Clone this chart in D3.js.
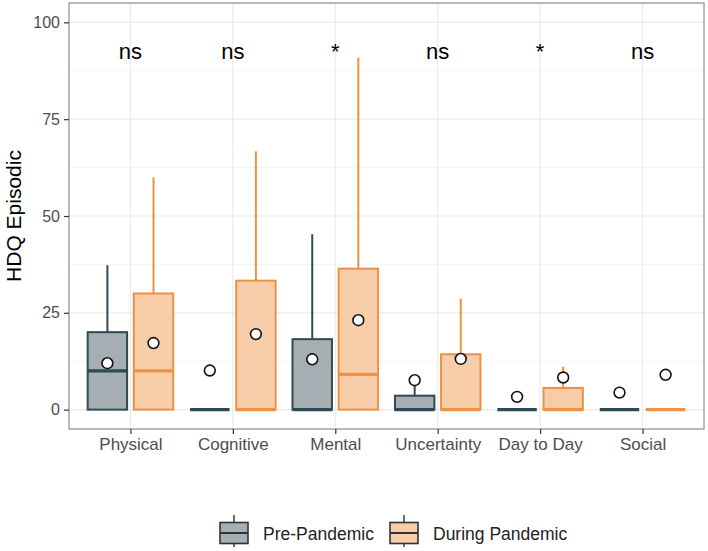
<!DOCTYPE html>
<html>
<head>
<meta charset="utf-8">
<script src="https://cdn.jsdelivr.net/npm/d3@7"></script>
<style>
  body { margin: 0; background: #fff; }
  text { font-family: "Liberation Sans", Arial, sans-serif; }
</style>
</head>
<body>
<div id="chart-area"></div>
<script>
// categories and groups
const categories = ["Physical", "Cognitive", "Mental", "Uncertainty", "Day to Day", "Social"]
const groups = ["Pre-Pandemic", "During Pandemic"]

// box stats: [lowerWhisker, q1, median, q3, upperWhisker]
const preStats = [
  [0, 0, 10, 20, 37.3],
  [0, 0, 0, 0, 0],
  [0, 0, 0, 18.2, 45.3],
  [0, 0, 0, 3.6, 7.1],
  [0, 0, 0, 0, 0],
  [0, 0, 0, 0, 0]
]
const duringStats = [
  [0, 0, 10, 30, 60],
  [0, 0, 0, 33.3, 66.7],
  [0, 0, 9.1, 36.4, 90.9],
  [0, 0, 0, 14.3, 28.6],
  [0, 0, 0, 5.6, 11.1],
  [0, 0, 0, 0, 0]
]
const preMeans = [12.0, 10.1, 13.0, 7.6, 3.3, 4.4]
const duringMeans = [17.2, 19.5, 23.1, 13.1, 8.3, 9.0]
const sigLabels = ["ns", "ns", "*", "ns", "*", "ns"]
const yTicks = [0, 25, 50, 75, 100]
const yMinorTicks = [12.5, 37.5, 62.5, 87.5]

const LABEL_Y = 90.5
const fills = { "Pre-Pandemic": "#a5afb3", "During Pandemic": "#f6cca9" }
const strokes = { "Pre-Pandemic": "#2f4a52", "During Pandemic": "#ec9145" }

const MARGIN = { LEFT: 69, RIGHT: 4, TOP: 3, BOTTOM: 122 }
const WIDTH = 708 - MARGIN.LEFT - MARGIN.RIGHT
const HEIGHT = 551 - MARGIN.TOP - MARGIN.BOTTOM

const svg = d3.select("#chart-area").append("svg")
  .attr("width", 708)
  .attr("height", 551)

const g = svg.append("g")
  .attr("transform", `translate(${MARGIN.LEFT}, ${MARGIN.TOP})`)

const x = d3.scalePoint()
  .domain(categories)
  .range([0, WIDTH])
  .padding(0.6)

const step = x.step()
const dodge = d3.scaleOrdinal().domain(groups).range([-0.225 * step, 0.225 * step])
const boxW = 0.385 * step

const y = d3.scaleLinear()
  .domain([-5, 105])
  .range([HEIGHT, 0])

// grid
g.selectAll(".minor").data(yMinorTicks).enter().append("line")
  .attr("x1", 0).attr("x2", WIDTH)
  .attr("y1", d => y(d)).attr("y2", d => y(d))
  .attr("stroke", "#f3f3f3").attr("stroke-width", 0.8)
g.selectAll(".major").data(yTicks).enter().append("line")
  .attr("x1", 0).attr("x2", WIDTH)
  .attr("y1", d => y(d)).attr("y2", d => y(d))
  .attr("stroke", "#ebebeb").attr("stroke-width", 1.2)
g.selectAll(".vgrid").data(categories).enter().append("line")
  .attr("x1", d => x(d)).attr("x2", d => x(d))
  .attr("y1", 0).attr("y2", HEIGHT)
  .attr("stroke", "#ebebeb").attr("stroke-width", 1.2)

// boxes
const boxData = []
categories.forEach((c, i) => {
  boxData.push({ cat: c, group: groups[0], s: preStats[i], mean: preMeans[i] })
  boxData.push({ cat: c, group: groups[1], s: duringStats[i], mean: duringMeans[i] })
})

const boxes = g.selectAll(".box").data(boxData).enter().append("g")
  .attr("transform", d => `translate(${x(d.cat) + dodge(d.group)}, 0)`)

// whiskers
boxes.append("line")
  .attr("y1", d => y(d.s[3])).attr("y2", d => y(d.s[4]))
  .attr("stroke", d => strokes[d.group]).attr("stroke-width", 2)
boxes.append("line")
  .attr("y1", d => y(d.s[1])).attr("y2", d => y(d.s[0]))
  .attr("stroke", d => strokes[d.group]).attr("stroke-width", 2)

boxes.append("rect")
  .attr("x", -boxW / 2)
  .attr("width", boxW)
  .attr("y", d => y(d.s[3]))
  .attr("height", d => y(d.s[1]) - y(d.s[3]))
  .attr("fill", d => fills[d.group])
  .attr("stroke", d => strokes[d.group])
  .attr("stroke-width", 2)

boxes.append("line")
  .attr("x1", -boxW / 2).attr("x2", boxW / 2)
  .attr("y1", d => y(d.s[2])).attr("y2", d => y(d.s[2]))
  .attr("stroke", d => strokes[d.group]).attr("stroke-width", 3.4)

// means
boxes.append("circle")
  .attr("cy", d => y(d.mean))
  .attr("r", 5.4)
  .attr("fill", "#fff")
  .attr("stroke", "#111")
  .attr("stroke-width", 1.6)

// significance labels
g.selectAll(".sig").data(categories).enter().append("text")
  .attr("x", d => x(d))
  .attr("y", y(LABEL_Y))
  .attr("text-anchor", "middle")
  .attr("font-size", "22px")
  .attr("fill", "#000")
  .text((d, i) => sigLabels[i])

// panel border
g.append("rect")
  .attr("width", WIDTH).attr("height", HEIGHT)
  .attr("fill", "none").attr("stroke", "#8c8c8c").attr("stroke-width", 1.2)

// axes
const xAxisCall = d3.axisBottom(x).tickSize(5).tickSizeOuter(0).tickPadding(4)
const xAxis = g.append("g")
  .attr("transform", `translate(0, ${HEIGHT})`)
  .call(xAxisCall)
xAxis.select(".domain").remove()
xAxis.selectAll("line").attr("stroke", "#333").attr("stroke-width", 1.2)
xAxis.selectAll("text").attr("font-size", "17px").attr("fill", "#4d4d4d")
  .attr("font-family", "Liberation Sans, Arial, sans-serif")

const yAxisCall = d3.axisLeft(y).tickValues(yTicks).tickSize(5).tickSizeOuter(0).tickPadding(4)
const yAxis = g.append("g").call(yAxisCall)
yAxis.select(".domain").remove()
yAxis.selectAll("line").attr("stroke", "#333").attr("stroke-width", 1.2)
yAxis.selectAll("text").attr("font-size", "16px").attr("fill", "#4d4d4d")
  .attr("font-family", "Liberation Sans, Arial, sans-serif")

// y label
svg.append("text")
  .attr("x", -(MARGIN.TOP + HEIGHT / 2))
  .attr("y", 21)
  .attr("font-size", "21px")
  .attr("text-anchor", "middle")
  .attr("transform", "rotate(-90)")
  .text("HDQ Episodic")

// legend
const legendX = [220, 390]
const legend = svg.selectAll(".legend").data(groups).enter().append("g")
  .attr("transform", (d, i) => `translate(${legendX[i]}, 533)`)
legend.append("line")
  .attr("x1", 14).attr("x2", 14).attr("y1", -18).attr("y2", 14)
  .attr("stroke", "#333").attr("stroke-width", 1.4)
legend.append("rect")
  .attr("x", 0).attr("y", -10.5).attr("width", 28).attr("height", 21)
  .attr("fill", d => fills[d]).attr("stroke", "#333").attr("stroke-width", 1.6)
legend.append("line")
  .attr("x1", 0).attr("x2", 28).attr("y1", 0).attr("y2", 0)
  .attr("stroke", "#333").attr("stroke-width", 2)
legend.append("text")
  .attr("x", 43).attr("y", 6.5)
  .attr("font-size", "17.5px")
  .attr("fill", "#222")
  .text(d => d)
</script>
</body>
</html>
